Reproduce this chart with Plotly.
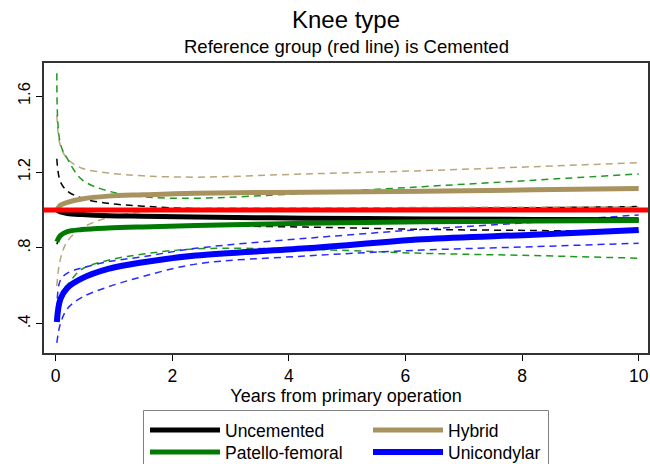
import plotly.graph_objects as go

# Years from primary operation
years = [0.02, 0.08, 0.2, 0.45, 0.9, 1.5, 2.4, 4.3, 6.3, 8.2, 10.0]

# Hazard ratios vs reference (Cemented) with 95% CI
uncem = [1.00, 0.990, 0.982, 0.976, 0.970, 0.967, 0.963, 0.957, 0.953, 0.950, 0.948]
uncem_hi = [1.27, 1.15, 1.10, 1.062, 1.035, 1.020, 1.007, 1.005, 1.008, 1.012, 1.018]
uncem_lo = [0.82, 0.86, 0.885, 0.900, 0.910, 0.913, 0.916, 0.910, 0.898, 0.892, 0.886]

hybrid = [1.00, 1.025, 1.040, 1.058, 1.073, 1.080, 1.088, 1.094, 1.099, 1.106, 1.113]
hybrid_hi = [1.50, 1.34, 1.27, 1.22, 1.195, 1.180, 1.173, 1.19, 1.207, 1.228, 1.249]
hybrid_lo = [0.60, 0.74, 0.835, 0.905, 0.960, 0.990, 1.008, 1.010, 1.013, 1.015, 1.016]

patello = [0.833, 0.865, 0.886, 0.897, 0.905, 0.911, 0.918, 0.930, 0.938, 0.942, 0.945]
patello_hi = [1.72, 1.35, 1.27, 1.16, 1.10, 1.07, 1.062, 1.088, 1.123, 1.157, 1.19]
patello_lo = [0.41, 0.55, 0.605, 0.688, 0.735, 0.768, 0.795, 0.793, 0.772, 0.760, 0.746]

unic = [0.41, 0.53, 0.59, 0.64, 0.69, 0.725, 0.760, 0.798, 0.846, 0.870, 0.895]
unic_hi = [0.47, 0.63, 0.667, 0.695, 0.728, 0.754, 0.798, 0.851, 0.898, 0.935, 0.974]
unic_lo = [0.30, 0.40, 0.48, 0.54, 0.595, 0.65, 0.715, 0.758, 0.789, 0.807, 0.825]

ref_value = 1.0
x_ticks = [0, 2, 4, 6, 8, 10]
y_ticks = [0.4, 0.8, 1.2, 1.6]
y_ticktext = [".4", ".8", "1.2", "1.6"]

# name, estimate, lower, upper, colour, dash colour, width, legend slot
series = [
    ("Uncemented", uncem, uncem_lo, uncem_hi, "#000000", "#000000", 5, "legend"),
    ("Hybrid", hybrid, hybrid_lo, hybrid_hi, "#A8935F", "#B9A67C", 5, "legend2"),
    ("Patello-femoral", patello, patello_lo, patello_hi, "#007A00", "#1E9A1E", 5, "legend3"),
    ("Unicondylar", unic, unic_lo, unic_hi, "#0000FF", "#2A2AFF", 6, "legend4"),
]

fig = go.Figure()

for name, est, lo, hi, col, dcol, w, leg in series:
    for band in (lo, hi):
        fig.add_trace(go.Scatter(
            x=years, y=band, mode="lines", showlegend=False, hoverinfo="skip",
            line=dict(color=dcol, width=1.5, dash="7px,5px", shape="spline", smoothing=1.0),
        ))

fig.add_hline(y=ref_value, line=dict(color="#FF0000", width=5))

for name, est, lo, hi, col, dcol, w, leg in series:
    fig.add_trace(go.Scatter(
        x=years, y=est, mode="lines", name=name, legend=leg,
        line=dict(color=col, width=w, shape="spline", smoothing=1.0),
    ))

# plot-area geometry in pixels (for placing legend pieces)
L, R, T, B = 44, 648, 63, 353
W, H = R - L, B - T


def px_x(p):
    return (p - L) / W


def px_y(p):
    return (B - p) / H


leg_common = dict(
    orientation="v", yanchor="middle", xanchor="left", bgcolor="rgba(0,0,0,0)",
    borderwidth=0, font=dict(size=17.5), itemwidth=70, tracegroupgap=0,
)

col1_x, col2_x = 145, 368
row1_y, row2_y = 430, 452

fig.update_layout(
    width=650, height=464,
    margin=dict(l=L, r=650 - R, t=T, b=464 - B, autoexpand=False),
    paper_bgcolor="white", plot_bgcolor="white",
    font=dict(family="Liberation Sans, Arial, sans-serif", size=16, color="black"),
    title=dict(text="Knee type", x=0.5, xref="paper", xanchor="center",
               y=1 - 20 / 464, yref="container", yanchor="middle",
               font=dict(size=24, color="black")),
    showlegend=True,
    legend=dict(x=px_x(col1_x), y=px_y(row1_y), **leg_common),
    legend2=dict(x=px_x(col2_x), y=px_y(row1_y), **leg_common),
    legend3=dict(x=px_x(col1_x), y=px_y(row2_y), **leg_common),
    legend4=dict(x=px_x(col2_x), y=px_y(row2_y), **leg_common),
)

# legend frame
fig.add_shape(type="rect", xref="paper", yref="paper",
              x0=px_x(143.5), x1=px_x(548.5), y0=px_y(470), y1=px_y(410.5),
              line=dict(color="#808080", width=1), fillcolor="rgba(0,0,0,0)", layer="below")

fig.add_annotation(
    text="Reference group (red line) is Cemented", xref="paper", yref="paper",
    x=0.5, y=px_y(47), xanchor="center", yanchor="middle", showarrow=False,
    font=dict(size=18.5, color="black"),
)

fig.update_xaxes(
    range=[-0.2, 10.16], tickvals=x_ticks, ticks="outside", ticklen=6,
    tickcolor="black", showline=True, linecolor="#333333", linewidth=1.5,
    mirror=True, showgrid=False, zeroline=False,
    title=dict(text="Years from primary operation", standoff=0, font=dict(size=18)),
    tickfont=dict(size=17.5),
)
fig.update_yaxes(
    range=[0.247, 1.774], tickvals=y_ticks, ticktext=y_ticktext, ticks="outside",
    ticklen=6, tickcolor="black", showline=True, linecolor="#333333", linewidth=1.5,
    mirror=True, showgrid=False, zeroline=False, tickangle=-90,
    tickfont=dict(size=16.5),
)

fig.write_html("out.html")
